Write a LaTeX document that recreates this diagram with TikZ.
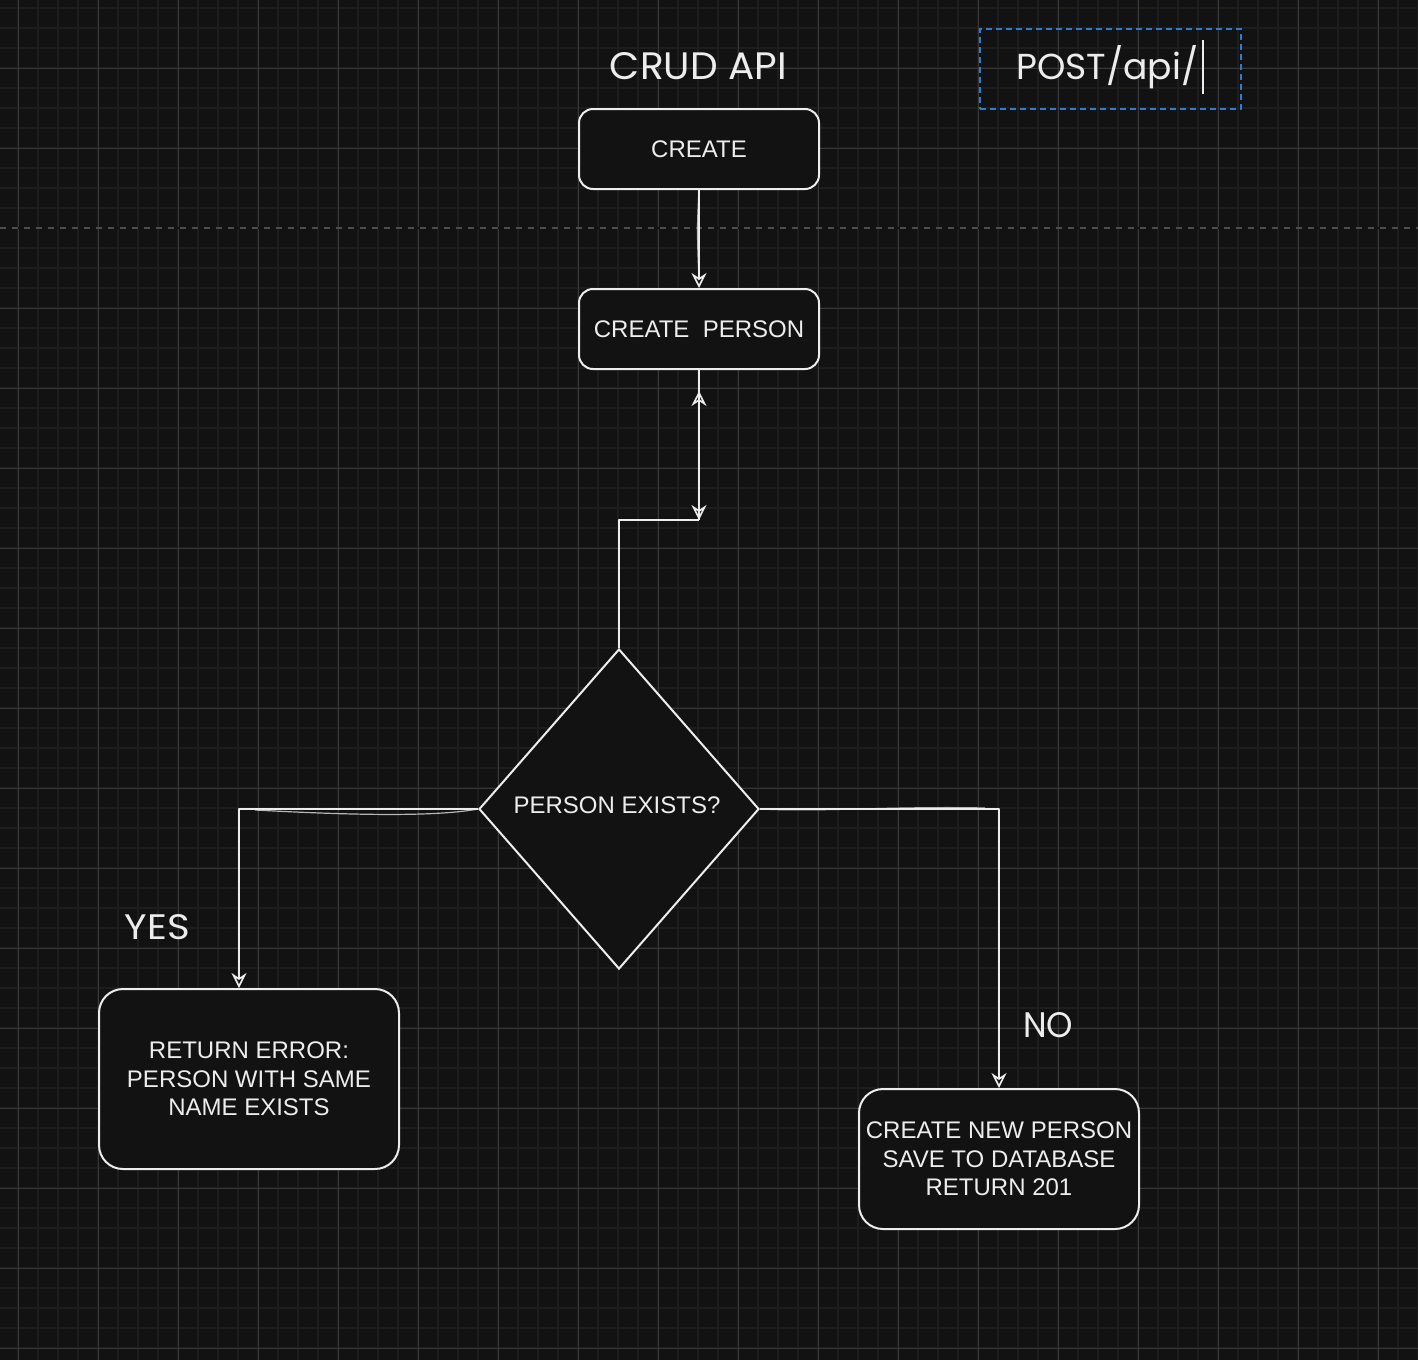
\documentclass[tikz,border=0pt]{standalone}
\usepackage{fontspec}
\setmainfont{Liberation Sans}
\newfontfamily\hand{Poppins}
\usetikzlibrary{shapes.geometric,arrows.meta}
\definecolor{canvas}{HTML}{121212}
\definecolor{gridminor}{HTML}{1D1D1D}
\definecolor{gridmajor}{HTML}{383838}
\definecolor{ink}{HTML}{EDEDED}
\definecolor{selblue}{HTML}{2F7BD0}
\definecolor{rule}{HTML}{4C4C4C}
\begin{document}
\begin{tikzpicture}[x=1pt,y=-1pt,
  label/.style={text=ink, font=\fontsize{24}{28.5}\selectfont, align=center},
  box/.style={label, draw=ink, line width=2pt, fill=canvas, rounded corners=14pt, inner sep=0pt},
  bigbox/.style={box, rounded corners=24pt},
  decision/.style={diamond, draw=ink, line width=2pt, fill=canvas, inner sep=0pt},
  conn/.style={draw=ink, line width=2pt, line join=round},
  tip/.style={-{Stealth[open, length=15pt, width=15pt, inset=5pt, line width=1.6pt]}},
  sketch/.style={draw=ink, line width=1.2pt, opacity=0.75},
  handtext/.style={text=ink, inner sep=0pt}]

% canvas and grid
\useasboundingbox (0,0) rectangle (1418,1360);
\fill[canvas] (0,0) rectangle (1418,1360);
\foreach \x in {18,38,...,1418} \draw[gridminor, line width=2pt] (\x,0) -- (\x,1360);
\foreach \y in {8,28,...,1360} \draw[gridminor, line width=2pt] (0,\y) -- (1418,\y);
\foreach \x in {18,98,...,1418} \draw[gridmajor, line width=1pt] (\x,0) -- (\x,1360);
\foreach \y in {68,148,...,1360} \draw[gridmajor, line width=1pt] (0,\y) -- (1418,\y);
% separator
\draw[canvas, line width=2pt] (0,228) -- (1418,228);
\draw[rule, line width=1.5pt, dash pattern=on 6pt off 6pt] (0,228) -- (1418,228);

% headings
\node[handtext] (title) at (698.5,66.5) {\hand\resizebox{177pt}{27pt}{CRUD API}};
\node[draw=selblue, line width=1.5pt, dash pattern=on 6pt off 4pt, minimum width=261pt, minimum height=80pt, inner sep=0pt] (sel) at (1110.5,69) {};
\node[handtext, anchor=base west] (route) at (1016,79) {\hand\resizebox{182pt}{!}{POST/api/}};
\draw[ink, line width=1.5pt] (1203,40) -- (1203,94);

% nodes
\node[box, minimum width=240pt, minimum height=80pt] (create) at (699,149) {CREATE};
\node[box, minimum width=240pt, minimum height=80pt] (cperson) at (699,329) {CREATE\ \ PERSON};
\node[decision, minimum width=280pt, minimum height=320pt] (exists) at (619,809) {};
\node[label, anchor=base] (existslabel) at (617,813) {PERSON EXISTS?};
\node[bigbox, minimum width=300pt, minimum height=180pt] (error) at (249,1079) {RETURN ERROR:\\PERSON WITH SAME\\NAME EXISTS};
\node[bigbox, minimum width=280pt, minimum height=140pt] (newp) at (999,1159) {CREATE NEW PERSON\\SAVE TO DATABASE\\RETURN 201};

% branch labels
\node[handtext] (yes) at (157.5,927.5) {\hand\resizebox{65pt}{25pt}{YES}};
\node[handtext] (no) at (1048,1025.5) {\hand\resizebox{50pt}{25pt}{NO}};

% connectors
\coordinate (join) at (699,520);
\draw[conn, tip] (create.south) -- (cperson.north);
\draw[sketch] (create.south) .. controls (697,230) .. (699,280);
\draw[conn] (exists.north) |- (join);
\draw[conn, tip] (cperson.south) -- (join);
\draw[conn, tip] (join) -- ([yshift=-21pt]cperson.south);
\draw[conn, tip] (exists.west) -| ([xshift=-10pt]error.north);
\draw[sketch] (exists.west) .. controls (430,818) and (330,814) .. (255,810);
\draw[conn, tip] (exists.east) -| (newp.north);
\draw[sketch] (exists.east) .. controls (820,812) and (900,806) .. (985,808);
\end{tikzpicture}
\end{document}
